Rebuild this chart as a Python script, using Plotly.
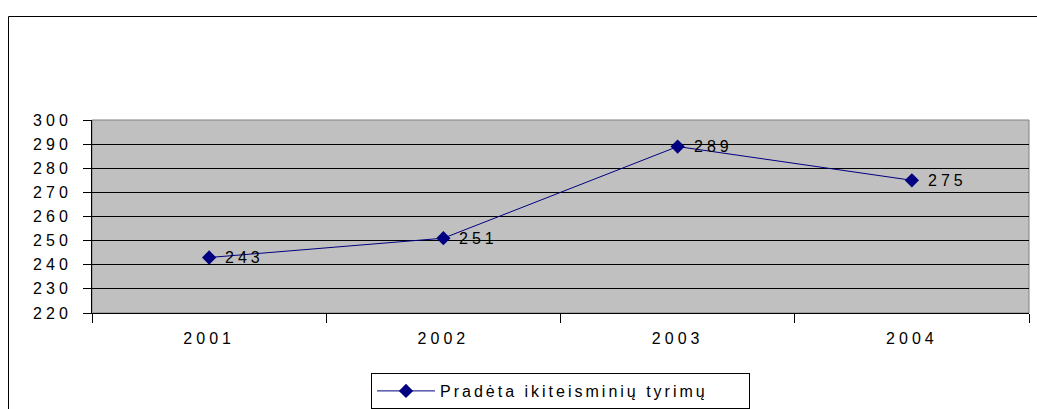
import plotly.graph_objects as go

years = ["2001", "2002", "2003", "2004"]
values = [243, 251, 289, 275]
series_name = "Pradėta ikiteisminių tyrimų"
y_ticks = [220, 230, 240, 250, 260, 270, 280, 290, 300]

W, H = 1037, 440
VIEW_H = 409
L, R, T, B = 92, 8, 120, 96 + (H - VIEW_H)
pw, ph = W - L - R, H - T - B

def px_x(x):
    return (x - L) / pw

def px_y(y):
    return 1 - (y - T) / ph

font = "Liberation Sans, Arial, sans-serif"
FS = 16

fig = go.Figure()
fig.add_trace(go.Scatter(
    x=years, y=values, mode="lines+markers",
    name=series_name,
    line=dict(color="#000080", width=1),
    marker=dict(symbol="diamond", size=11, color="#000080"),
    cliponaxis=False,
))

annotations = [
    dict(x=i, y=v, xref="x", yref="y", text=str(v), showarrow=False,
         xanchor="left", yanchor="middle", xshift=20, yshift=0,
         font=dict(family=font, size=FS, color="black"))
    for i, v in enumerate(values)
]

fig.update_layout(
    width=W, height=H,
    margin=dict(l=L, r=R, t=T, b=B),
    paper_bgcolor="white",
    plot_bgcolor="#C0C0C0",
    font=dict(family=font, size=FS, color="black"),
    showlegend=True,
    annotations=annotations,
    legend=dict(
        x=0.5, xanchor="center", y=px_y(373), yanchor="top",
        orientation="h", itemwidth=58, entrywidth=304, entrywidthmode="pixels",
        bordercolor="black", borderwidth=1, bgcolor="white",
        font=dict(family=font, size=FS, color="black"),
    ),
    xaxis=dict(
        type="category", range=[-0.5, 3.5],
        tickson="boundaries", ticks="outside", ticklen=9, tickcolor="black",
        showline=True, linecolor="black", linewidth=1,
        showgrid=False, zeroline=False,
        tickfont=dict(family=font, size=FS, color="black"),
        ticklabelstandoff=11,
    ),
    yaxis=dict(
        range=[220, 300], tickvals=y_ticks,
        ticks="outside", ticklen=8, tickcolor="black",
        showline=True, linecolor="black", linewidth=1,
        showgrid=True, gridcolor="black", gridwidth=1,
        zeroline=False,
        tickfont=dict(family=font, size=FS, color="black"),
        ticklabelstandoff=8,
    ),
    shapes=[
        dict(type="rect", xref="paper", yref="paper", x0=0, x1=1, y0=0, y1=1,
             line=dict(color="#808080", width=1), layer="below"),
        dict(type="rect", xref="paper", yref="paper",
             x0=px_x(8.5), x1=px_x(W + 20), y0=px_y(16.5), y1=px_y(H + 20),
             line=dict(color="black", width=1)),
    ],
)

post = """
document.documentElement.style.overflow = 'hidden';
document.documentElement.style.height = '409px';
document.body.style.margin = '0';
document.body.style.overflow = 'hidden';
document.body.style.height = '409px';
document.querySelectorAll('.xtick text, .ytick text, .annotation-text').forEach(function(t){
  t.style.letterSpacing = '4px';
});
document.querySelectorAll('.legendtext').forEach(function(t){
  t.style.letterSpacing = '3px';
});
"""
fig.write_html("out.html", post_script=post, config={"displayModeBar": False})
